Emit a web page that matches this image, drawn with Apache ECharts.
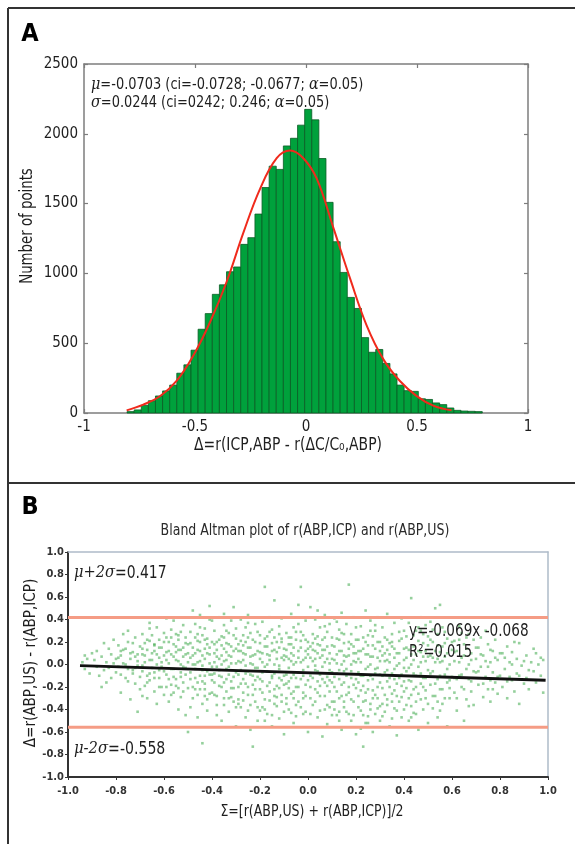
<!DOCTYPE html>
<html><head><meta charset="utf-8">
<script src="https://cdn.jsdelivr.net/npm/echarts@6/dist/echarts.min.js"></script>
<style>html,body{margin:0;padding:0;background:#fff}#c{width:575px;height:844px}</style>
</head><body><div id="c"></div>
<script>
// ---------- Panel A: histogram ----------
const histFirstBinCenter = -0.79;
const histBinWidth = 0.032;
const histCounts = [10,22,55,88,122,158,200,285,345,450,600,712,850,918,1012,1046,1208,1256,1425,1615,1768,1745,1913,1968,2062,2175,2100,1823,1509,1227,1007,828,749,540,435,455,355,280,200,160,155,102,97,72,60,36,19,14,12,10];
const fitX = [-0.808,-0.733,-0.658,-0.583,-0.508,-0.432,-0.357,-0.282,-0.207,-0.132,-0.072,-0.012,0.048,0.123,0.198,0.273,0.348,0.423,0.499,0.573,0.656];
const fitY = [19,60,120,230,410,652,942,1292,1606,1825,1880,1825,1680,1328,966,628,386,229,121,53,19];
const histXRange = [-1, 1, 0.5];
const histYRange = [0, 2500, 500];

// ---------- Panel B: Bland-Altman ----------
const baRange = [-1, 1, 0.2];
const upperLimit = 0.417;
const lowerLimit = -0.558;
const regressionLine = [[-0.95,-0.01],[0.99,-0.14]];
// points spread over the whole cloud
const baPoints = [
[-0.94,0.02],[-0.93,-0.04],[-0.92,0.05],[-0.91,-0.08],[-0.9,0.1],[-0.93,0.08],
[-0.89,0.04],[-0.88,-0.02],[-0.88,0.12],[-0.87,-0.1],[-0.86,0.07],[-0.85,0.19],[-0.85,-0.05],[-0.84,0.02],[-0.84,-0.16],[-0.83,0.14],[-0.83,-0.03],[-0.82,0.09],[-0.82,-0.12],[-0.81,0.01],[-0.81,0.22],[-0.8,-0.07],[-0.8,0.05],[-0.86,-0.2],
[-0.79,0.17],[-0.79,-0.02],[-0.78,0.08],[-0.78,-0.25],[-0.77,0.27],[-0.77,0.01],[-0.76,-0.12],[-0.76,0.14],[-0.75,-0.04],[-0.75,0.2],[-0.74,-0.31],[-0.74,0.05],[-0.73,-0.08],[-0.73,0.11],[-0.72,0.24],[-0.72,-0.17],[-0.71,-0.42],[-0.71,0.03],[-0.71,-0.01],[-0.7,0.16],[-0.7,-0.22],[-0.78,0.12],[-0.75,0.3],[-0.73,-0.05],[-0.72,0.07],
[-0.69,0.27],[-0.69,-0.06],[-0.69,0.09],[-0.68,-0.19],[-0.68,0.19],[-0.68,0.02],[-0.67,-0.3],[-0.67,0.13],[-0.67,-0.1],[-0.66,0.32],[-0.66,0.04],[-0.66,-0.14],[-0.65,0.26],[-0.65,-0.03],[-0.65,0.1],[-0.64,-0.24],[-0.64,0.17],[-0.64,-0.07],[-0.63,0.33],[-0.63,0.0],[-0.63,-0.35],[-0.62,0.22],[-0.62,-0.12],[-0.62,0.06],[-0.61,-0.2],[-0.61,0.15],[-0.61,-0.02],[-0.6,0.28],[-0.6,-0.27],[-0.6,0.08],[-0.67,0.22],[-0.64,0.12],[-0.62,-0.05],[-0.69,-0.28],[-0.66,0.37],
[-0.59,0.41],[-0.59,-0.09],[-0.59,0.11],[-0.58,-0.33],[-0.58,0.2],[-0.58,0.01],[-0.57,-0.18],[-0.57,0.31],[-0.57,-0.04],[-0.56,0.39],[-0.56,0.07],[-0.56,-0.25],[-0.55,0.16],[-0.55,-0.13],[-0.55,0.27],[-0.54,-0.4],[-0.54,0.03],[-0.54,0.22],[-0.53,-0.07],[-0.53,0.13],[-0.53,-0.29],[-0.52,0.35],[-0.52,-0.02],[-0.52,-0.16],[-0.51,0.24],[-0.51,-0.45],[-0.51,0.09],[-0.5,-0.21],[-0.5,0.18],[-0.5,-0.6],[-0.58,0.12],[-0.56,-0.11],[-0.55,0.04],[-0.53,0.29],[-0.52,0.15],[-0.57,0.24],[-0.54,-0.21],[-0.51,-0.09],[-0.59,-0.2],[-0.5,0.02],
[-0.49,0.29],[-0.49,-0.13],[-0.49,0.06],[-0.48,0.48],[-0.48,-0.3],[-0.48,0.15],[-0.47,-0.04],[-0.47,0.36],[-0.47,-0.22],[-0.46,0.21],[-0.46,-0.47],[-0.46,0.02],[-0.45,0.44],[-0.45,-0.1],[-0.45,0.12],[-0.44,-0.7],[-0.44,0.26],[-0.44,-0.35],[-0.43,0.05],[-0.43,-0.17],[-0.43,0.32],[-0.42,-0.06],[-0.42,0.18],[-0.42,-0.41],[-0.41,0.52],[-0.41,-0.26],[-0.41,0.09],[-0.4,-0.14],[-0.4,0.39],[-0.4,-0.02],[-0.48,0.0],[-0.47,0.1],[-0.46,-0.16],[-0.45,0.33],[-0.44,0.08],[-0.43,-0.28],[-0.42,0.23],[-0.41,-0.09],[-0.49,-0.38],[-0.46,0.27],[-0.44,-0.01],[-0.43,0.14],[-0.4,0.2],[-0.41,0.4],[-0.45,-0.22],
[-0.39,0.3],[-0.39,-0.08],[-0.39,0.1],[-0.38,-0.36],[-0.38,0.2],[-0.38,-0.02],[-0.37,0.42],[-0.37,-0.19],[-0.37,0.05],[-0.36,-0.5],[-0.36,0.25],[-0.36,-0.11],[-0.35,0.14],[-0.35,-0.3],[-0.35,0.35],[-0.34,-0.04],[-0.34,0.19],[-0.34,-0.24],[-0.33,0.08],[-0.33,-0.42],[-0.33,0.28],[-0.32,-0.15],[-0.32,0.01],[-0.32,0.39],[-0.31,-0.33],[-0.31,0.51],[-0.31,0.12],[-0.3,-0.07],[-0.3,-0.55],[-0.3,0.23],[-0.39,-0.27],[-0.38,0.07],[-0.37,-0.05],[-0.36,0.17],[-0.35,-0.16],[-0.34,0.04],[-0.33,-0.09],[-0.32,0.16],[-0.31,-0.21],[-0.3,0.32],[-0.36,0.0],[-0.34,0.3],[-0.38,-0.45],[-0.32,-0.29],[-0.35,0.45],
[-0.29,0.18],[-0.29,-0.2],[-0.29,0.03],[-0.28,0.4],[-0.28,-0.38],[-0.28,-0.05],[-0.27,0.26],[-0.27,-0.13],[-0.27,0.1],[-0.26,-0.47],[-0.26,0.33],[-0.26,-0.01],[-0.25,0.15],[-0.25,-0.27],[-0.25,0.44],[-0.24,-0.09],[-0.24,0.07],[-0.24,-0.58],[-0.23,0.22],[-0.23,-0.18],[-0.23,-0.73],[-0.22,0.36],[-0.22,-0.03],[-0.22,-0.33],[-0.21,0.12],[-0.21,-0.11],[-0.21,0.29],[-0.2,-0.41],[-0.2,0.05],[-0.2,-0.22],[-0.29,-0.31],[-0.28,0.12],[-0.27,-0.25],[-0.26,0.2],[-0.25,-0.06],[-0.24,0.28],[-0.23,0.0],[-0.22,-0.14],[-0.21,-0.5],[-0.2,0.19],[-0.26,-0.17],[-0.24,-0.36],[-0.22,0.09],[-0.28,0.02],[-0.25,0.37],
[-0.19,0.38],[-0.19,-0.15],[-0.19,0.02],[-0.18,0.69],[-0.18,-0.31],[-0.18,0.16],[-0.17,-0.06],[-0.17,0.25],[-0.17,-0.44],[-0.16,0.08],[-0.16,-0.24],[-0.16,0.42],[-0.15,-0.12],[-0.15,0.31],[-0.15,-0.55],[-0.14,0.57],[-0.14,0.0],[-0.14,-0.35],[-0.13,0.2],[-0.13,-0.19],[-0.13,0.11],[-0.12,-0.04],[-0.12,-0.48],[-0.12,0.34],[-0.11,-0.27],[-0.11,0.06],[-0.11,0.23],[-0.1,-0.1],[-0.1,-0.62],[-0.1,0.14],[-0.19,-0.38],[-0.18,-0.02],[-0.17,0.09],[-0.16,-0.16],[-0.15,0.19],[-0.14,-0.08],[-0.13,-0.29],[-0.12,0.27],[-0.11,-0.14],[-0.1,0.04],[-0.16,0.29],[-0.14,0.13],[-0.12,-0.21],[-0.18,-0.5],[-0.11,0.41],
[-0.09,0.28],[-0.09,-0.17],[-0.09,0.07],[-0.08,-0.4],[-0.08,0.18],[-0.08,-0.03],[-0.07,0.45],[-0.07,-0.26],[-0.07,0.1],[-0.06,-0.09],[-0.06,0.33],[-0.06,-0.52],[-0.05,0.02],[-0.05,-0.2],[-0.05,0.22],[-0.04,0.53],[-0.04,-0.33],[-0.04,0.06],[-0.03,0.69],[-0.03,-0.13],[-0.03,0.15],[-0.02,-0.44],[-0.02,0.26],[-0.02,-0.05],[-0.01,0.12],[-0.01,-0.28],[-0.01,0.39],[0.0,-0.02],[0.0,-0.6],[0.0,0.2],[-0.09,-0.3],[-0.08,0.05],[-0.07,-0.12],[-0.06,0.15],[-0.05,-0.36],[-0.04,-0.07],[-0.03,0.29],[-0.02,0.04],[-0.01,-0.18],[0.0,0.09],[-0.06,0.0],[-0.04,0.36],[-0.08,-0.21],[-0.02,-0.25],[-0.07,0.24],
[0.01,0.51],[0.01,-0.1],[0.01,0.16],[0.02,-0.36],[0.02,0.03],[0.02,0.27],[0.03,-0.22],[0.03,0.4],[0.03,-0.05],[0.04,-0.47],[0.04,0.1],[0.04,-0.15],[0.05,0.33],[0.05,-0.28],[0.05,0.06],[0.06,-0.64],[0.06,0.22],[0.06,-0.02],[0.07,0.44],[0.07,-0.4],[0.07,0.13],[0.08,-0.11],[0.08,0.29],[0.08,-0.53],[0.09,0.01],[0.09,-0.24],[0.09,0.36],[0.1,-0.07],[0.1,0.17],[0.1,-0.33],[0.01,-0.3],[0.02,0.19],[0.03,-0.01],[0.04,0.25],[0.05,-0.19],[0.06,0.08],[0.07,-0.16],[0.08,0.05],[0.09,-0.38],[0.1,0.24],[0.05,-0.09],[0.07,0.34],[0.03,0.12],[0.09,-0.14],[0.04,0.48],
[0.11,0.41],[0.11,-0.2],[0.11,0.04],[0.12,-0.45],[0.12,0.23],[0.12,-0.08],[0.13,0.31],[0.13,-0.3],[0.13,0.12],[0.14,-0.58],[0.14,0.0],[0.14,0.46],[0.15,-0.16],[0.15,0.19],[0.15,-0.38],[0.16,0.07],[0.16,-0.04],[0.16,0.36],[0.17,0.71],[0.17,-0.25],[0.17,0.14],[0.18,-0.5],[0.18,0.27],[0.18,-0.12],[0.19,0.03],[0.19,-0.33],[0.19,0.42],[0.2,-0.21],[0.2,0.1],[0.2,-0.62],[0.11,-0.33],[0.12,0.09],[0.13,-0.13],[0.14,0.28],[0.15,-0.06],[0.16,-0.27],[0.17,0.2],[0.18,0.0],[0.19,-0.18],[0.2,0.33],[0.15,0.08],[0.13,-0.42],[0.17,-0.44],[0.19,0.16],[0.12,0.38],
[0.21,0.22],[0.21,-0.28],[0.21,0.05],[0.22,-0.41],[0.22,0.34],[0.22,-0.1],[0.23,0.14],[0.23,-0.73],[0.23,-0.19],[0.24,0.48],[0.24,-0.04],[0.24,-0.52],[0.25,0.26],[0.25,-0.14],[0.25,0.09],[0.26,-0.35],[0.26,0.39],[0.26,0.0],[0.27,-0.23],[0.27,0.17],[0.27,-0.6],[0.28,0.3],[0.28,-0.08],[0.28,-0.44],[0.29,0.06],[0.29,-0.3],[0.29,0.42],[0.3,-0.16],[0.3,0.2],[0.3,-0.5],[0.21,-0.16],[0.22,0.12],[0.23,-0.33],[0.24,0.2],[0.25,-0.46],[0.26,-0.1],[0.27,0.07],[0.28,-0.27],[0.29,-0.03],[0.3,0.12],[0.24,-0.25],[0.26,0.3],[0.22,-0.57],[0.28,0.35],[0.3,-0.37],
[0.31,0.33],[0.31,-0.21],[0.31,0.08],[0.32,-0.42],[0.32,0.24],[0.32,-0.07],[0.33,0.45],[0.33,-0.31],[0.33,0.13],[0.34,-0.12],[0.34,0.02],[0.34,-0.55],[0.35,0.27],[0.35,-0.26],[0.35,0.16],[0.36,-0.04],[0.36,-0.39],[0.36,0.37],[0.37,0.1],[0.37,-0.17],[0.37,-0.63],[0.38,0.21],[0.38,-0.33],[0.38,0.01],[0.39,0.41],[0.39,-0.09],[0.39,-0.47],[0.4,0.14],[0.4,-0.24],[0.4,0.3],[0.31,-0.35],[0.32,0.1],[0.33,-0.15],[0.34,0.19],[0.35,-0.48],[0.36,0.06],[0.37,-0.28],[0.38,0.29],[0.39,-0.19],[0.4,-0.03],[0.33,0.04],[0.36,-0.13],
[0.41,0.06],[0.41,-0.36],[0.41,0.25],[0.42,-0.14],[0.42,0.37],[0.42,-0.5],[0.43,0.59],[0.43,0.0],[0.43,-0.27],[0.44,0.16],[0.44,-0.08],[0.44,-0.43],[0.45,0.3],[0.45,-0.2],[0.45,0.09],[0.46,-0.58],[0.46,0.21],[0.46,-0.02],[0.47,0.42],[0.47,-0.31],[0.47,0.11],[0.48,-0.12],[0.48,0.27],[0.48,-0.4],[0.49,0.03],[0.49,-0.23],[0.49,0.35],[0.5,-0.05],[0.5,0.17],[0.5,-0.52],[0.41,-0.06],[0.42,0.13],[0.43,-0.37],[0.44,0.04],[0.45,-0.33],[0.46,0.33],[0.47,-0.17],[0.48,0.07],[0.49,-0.3],[0.5,0.25],
[0.51,0.38],[0.51,-0.18],[0.51,0.08],[0.52,-0.39],[0.52,0.2],[0.52,-0.06],[0.53,0.5],[0.53,-0.28],[0.53,0.12],[0.54,-0.13],[0.54,0.27],[0.54,-0.47],[0.55,0.53],[0.55,0.02],[0.55,-0.22],[0.56,0.16],[0.56,-0.35],[0.56,0.33],[0.57,-0.09],[0.57,0.07],[0.58,-0.55],[0.58,0.23],[0.58,-0.16],[0.59,0.0],[0.59,-0.3],[0.6,0.13],[0.6,-0.11],[0.52,0.31],[0.54,0.05],[0.55,-0.41],[0.57,0.29],[0.59,-0.21],
[0.61,0.21],[0.61,-0.25],[0.61,0.03],[0.62,-0.41],[0.62,0.12],[0.63,-0.1],[0.63,0.34],[0.64,-0.2],[0.64,0.06],[0.65,-0.5],[0.65,0.18],[0.66,-0.04],[0.66,-0.31],[0.67,0.27],[0.67,0.0],[0.68,-0.15],[0.68,0.1],[0.69,-0.36],[0.69,0.22],[0.7,-0.07],[0.62,-0.13],[0.64,0.28],[0.66,0.14],[0.68,-0.24],[0.7,0.05],
[0.71,0.15],[0.71,-0.18],[0.72,-0.02],[0.72,0.24],[0.73,-0.29],[0.73,0.08],[0.74,-0.11],[0.75,0.18],[0.75,-0.22],[0.76,0.02],[0.76,-0.33],[0.77,0.12],[0.77,-0.07],[0.78,-0.16],[0.78,0.22],[0.79,0.04],[0.79,-0.26],[0.8,-0.1],[0.74,0.3],[0.76,-0.14],
[0.81,0.1],[0.81,-0.2],[0.82,-0.04],[0.83,0.16],[0.83,-0.3],[0.84,0.02],[0.85,-0.14],[0.85,0.11],[0.86,-0.24],[0.87,0.05],[0.87,-0.08],[0.88,0.19],[0.88,-0.35],[0.89,-0.01],[0.9,-0.17],[0.84,-0.11],
[0.91,0.08],[0.91,-0.12],[0.92,-0.22],[0.93,0.02],[0.94,-0.06],[0.94,0.14],[0.95,-0.16],[0.96,0.0],[0.97,-0.1],[0.97,0.06],[0.98,-0.25],[0.98,0.04]
];
// extra points in the dense core of the cloud
const baPointsCore = [
[-0.79,0.06],[-0.78,-0.09],[-0.77,0.13],[-0.76,0.0],[-0.75,-0.15],[-0.74,0.1],[-0.73,0.19],[-0.72,-0.03],[-0.71,0.09],[-0.7,-0.11],
[-0.69,0.14],[-0.69,-0.01],[-0.68,0.08],[-0.67,-0.16],[-0.66,0.21],[-0.66,-0.08],[-0.65,0.04],[-0.64,0.18],[-0.64,-0.12],[-0.63,0.09],[-0.62,-0.2],[-0.62,0.15],[-0.61,0.02],[-0.6,-0.06],[-0.6,0.2],
[-0.59,0.04],[-0.59,0.24],[-0.58,-0.13],[-0.57,0.09],[-0.57,-0.27],[-0.56,0.18],[-0.56,-0.04],[-0.55,0.11],[-0.55,-0.19],[-0.54,0.13],[-0.54,0.26],[-0.53,-0.11],[-0.53,0.0],[-0.52,0.07],[-0.52,-0.24],[-0.51,0.19],[-0.51,-0.03],[-0.5,0.1],
[-0.49,0.19],[-0.49,-0.07],[-0.48,0.08],[-0.48,-0.2],[-0.47,0.24],[-0.47,-0.12],[-0.46,0.13],[-0.46,-0.27],[-0.45,0.03],[-0.45,0.2],[-0.44,-0.15],[-0.44,-0.05],[-0.43,0.22],[-0.43,-0.22],[-0.42,0.1],[-0.42,-0.31],[-0.41,0.01],[-0.41,0.15],[-0.4,-0.09],[-0.4,-0.25],[-0.47,0.0],[-0.43,-0.1],
[-0.39,0.18],[-0.39,-0.16],[-0.39,0.02],[-0.38,-0.28],[-0.38,0.13],[-0.37,-0.1],[-0.37,0.22],[-0.36,-0.2],[-0.36,0.08],[-0.35,-0.36],[-0.35,0.03],[-0.35,0.24],[-0.34,-0.13],[-0.34,0.11],[-0.33,-0.02],[-0.33,-0.3],[-0.33,0.18],[-0.32,-0.21],[-0.32,0.07],[-0.31,-0.11],[-0.31,0.26],[-0.3,-0.38],[-0.3,0.01],[-0.3,0.14],
[-0.29,-0.09],[-0.29,0.12],[-0.29,-0.35],[-0.28,0.21],[-0.28,-0.17],[-0.27,0.04],[-0.27,-0.32],[-0.27,0.17],[-0.26,-0.08],[-0.26,0.09],[-0.25,-0.2],[-0.25,0.24],[-0.25,-0.41],[-0.24,0.01],[-0.24,0.15],[-0.23,-0.27],[-0.23,0.08],[-0.23,-0.1],[-0.22,0.2],[-0.22,-0.22],[-0.21,-0.03],[-0.21,-0.38],[-0.2,0.11],[-0.2,-0.13],[-0.2,0.26],
[-0.19,-0.25],[-0.19,0.1],[-0.19,-0.07],[-0.18,0.23],[-0.18,-0.4],[-0.17,0.0],[-0.17,-0.19],[-0.17,0.16],[-0.16,-0.32],[-0.16,0.04],[-0.15,0.12],[-0.15,-0.1],[-0.15,-0.45],[-0.14,0.24],[-0.14,-0.22],[-0.13,0.05],[-0.13,-0.37],[-0.12,0.15],[-0.12,-0.12],[-0.12,-0.01],[-0.11,-0.33],[-0.11,0.2],[-0.1,-0.18],[-0.1,0.08],[-0.1,-0.42],[-0.14,-0.28],
[-0.09,0.13],[-0.09,-0.09],[-0.09,-0.35],[-0.08,0.24],[-0.08,-0.15],[-0.07,0.03],[-0.07,-0.43],[-0.07,0.18],[-0.06,-0.24],[-0.06,0.08],[-0.05,-0.12],[-0.05,0.29],[-0.05,-0.46],[-0.04,0.12],[-0.04,-0.2],[-0.03,0.02],[-0.03,-0.38],[-0.03,0.21],[-0.02,-0.1],[-0.02,-0.3],[-0.01,0.06],[-0.01,0.22],[-0.01,-0.42],[0.0,-0.14],[0.0,0.14],[-0.06,-0.3],
[0.01,0.06],[0.01,-0.2],[0.01,-0.44],[0.02,0.13],[0.02,-0.12],[0.03,0.23],[0.03,-0.33],[0.03,0.05],[0.04,-0.06],[0.04,-0.25],[0.05,0.17],[0.05,-0.41],[0.06,-0.13],[0.06,0.13],[0.07,-0.28],[0.07,0.02],[0.07,0.24],[0.08,-0.19],[0.08,-0.36],[0.08,0.16],[0.09,-0.05],[0.09,0.1],[0.1,-0.45],[0.1,-0.16],[0.1,0.05],[0.04,0.18],
[0.11,0.16],[0.11,-0.11],[0.11,-0.4],[0.12,0.01],[0.12,-0.24],[0.13,0.22],[0.13,-0.05],[0.13,-0.5],[0.14,0.12],[0.14,-0.18],[0.15,-0.33],[0.15,0.03],[0.15,0.27],[0.16,-0.1],[0.16,-0.42],[0.17,0.08],[0.17,-0.2],[0.18,0.18],[0.18,-0.31],[0.18,-0.06],[0.19,0.1],[0.19,-0.45],[0.2,-0.13],[0.2,0.02],[0.2,0.22],[0.14,-0.28],
[0.21,-0.07],[0.21,0.12],[0.21,-0.38],[0.22,0.02],[0.22,-0.23],[0.23,0.24],[0.23,-0.1],[0.23,-0.45],[0.24,0.09],[0.24,-0.32],[0.25,-0.02],[0.25,0.17],[0.25,-0.22],[0.26,-0.4],[0.26,0.07],[0.27,-0.13],[0.27,-0.3],[0.27,0.25],[0.28,-0.04],[0.28,0.14],[0.29,-0.2],[0.29,-0.39],[0.29,0.2],[0.3,-0.09],[0.3,0.03],[0.25,-0.52],
[0.31,0.16],[0.31,-0.1],[0.31,-0.46],[0.32,0.03],[0.32,-0.27],[0.33,0.22],[0.33,-0.05],[0.33,-0.36],[0.34,0.09],[0.34,-0.2],[0.35,-0.08],[0.35,0.2],[0.35,-0.33],[0.36,0.14],[0.36,-0.23],[0.37,-0.01],[0.37,-0.41],[0.38,0.1],[0.38,-0.12],[0.39,0.23],[0.39,-0.29],[0.4,0.04],[0.4,-0.15],[0.4,-0.4],
[0.41,0.15],[0.41,-0.21],[0.42,-0.03],[0.42,-0.3],[0.43,0.09],[0.43,-0.15],[0.44,0.26],[0.44,-0.22],[0.45,-0.1],[0.45,-0.44],[0.46,0.12],[0.46,-0.26],[0.47,0.02],[0.47,-0.08],[0.48,0.19],[0.48,-0.2],[0.49,-0.12],[0.49,0.12],[0.5,-0.35],[0.5,0.07],[0.43,-0.47],[0.47,0.3],
[0.51,-0.08],[0.51,0.22],[0.52,-0.28],[0.52,0.06],[0.53,-0.17],[0.53,0.02],[0.54,0.17],[0.54,-0.33],[0.55,-0.1],[0.55,0.11],[0.56,-0.22],[0.56,0.03],[0.57,0.19],[0.57,-0.3],[0.58,-0.04],[0.58,0.1],[0.59,-0.14],[0.6,0.2],
[0.61,-0.12],[0.61,0.11],[0.62,-0.3],[0.63,0.02],[0.63,0.22],[0.64,-0.09],[0.65,0.08],[0.65,-0.22],[0.66,0.24],[0.67,-0.13],[0.67,-0.37],[0.68,0.04],[0.69,-0.06],[0.7,0.15],
[0.71,-0.06],[0.72,0.09],[0.73,-0.17],[0.74,0.03],[0.75,-0.02],[0.76,0.13],[0.77,-0.22],[0.78,0.06],[0.79,-0.11],[0.8,0.1],
[0.82,0.06],[0.83,-0.15],[0.85,0.0],[0.86,0.2],[0.88,-0.1],[0.9,0.03],[0.92,-0.05],[0.95,0.1]
];

// ---------- styles ----------
const F = "'DejaVu Sans Condensed','Liberation Sans Narrow','DejaVu Sans',sans-serif";
const GREEK = "'DejaVu Serif','Liberation Serif',serif";
const boxA = '#7d7d7d';
const TXT = '#1e1e1e';

const chart = echarts.init(document.getElementById('c'), null, {renderer: 'canvas'});

function aAxis(pos, showLabel, range, isX) {
  return {
    gridIndex: 0, type: 'value', position: pos,
    min: range[0], max: range[1], interval: range[2],
    axisLine: {onZero: false, lineStyle: {color: boxA, width: 1.5}},
    axisTick: {inside: true, length: 4, lineStyle: {color: boxA, width: 1.2}},
    axisLabel: {show: showLabel, color: TXT, fontSize: 15, fontFamily: F, margin: isX ? 7 : 6,
      formatter: v => String(v)},
    splitLine: {show: false}
  };
}
const fmt1 = v => (Math.abs(v) < 1e-9 ? 0 : v).toFixed(1);
function bAxis(dim, pos, main) {
  return {
    gridIndex: 1, type: 'value', position: pos,
    min: baRange[0], max: baRange[1], interval: baRange[2],
    axisLine: {onZero: false, lineStyle: {color: main ? '#333' : '#aebbc9', width: main ? 2 : 1.5}},
    axisTick: {show: main, length: 3, lineStyle: {color: '#333', width: 1}},
    axisLabel: {show: main, formatter: fmt1, color: '#333', fontSize: 11, fontWeight: 'bold', fontFamily: F, margin: dim === 'x' ? 9 : 4},
    splitLine: {show: false}
  };
}
function txt(x, y, text, size, opts) {
  opts = opts || {};
  const el = {type: 'text', x: x, y: y, z: 10,
    style: {text: text, font: (opts.weight || '') + ' ' + size + 'px ' + F, fill: opts.fill || TXT,
      align: opts.align || 'left', verticalAlign: 'middle'}};
  if (opts.rich) el.style.rich = opts.rich;
  if (opts.scaleX) el.scaleX = opts.scaleX;
  if (opts.rotation) el.rotation = opts.rotation;
  return el;
}
const greekRich = size => ({g: {fontFamily: GREEK, fontStyle: 'italic', fontSize: size, fill: TXT}});

const option = {
  animation: false,
  backgroundColor: '#fff',
  grid: [
    {left: 84, top: 64, width: 444, height: 349},
    {left: 68, top: 552, width: 480, height: 225}
  ],
  xAxis: [aAxis('bottom', true, histXRange, true), aAxis('top', false, histXRange, true),
          bAxis('x', 'bottom', true), bAxis('x', 'top', false)],
  yAxis: [aAxis('left', true, histYRange, false), aAxis('right', false, histYRange, false),
          bAxis('y', 'left', true), bAxis('y', 'right', false)],
  series: [
    {
      type: 'custom', xAxisIndex: 0, yAxisIndex: 0,
      data: histCounts.map((v, k) => [histFirstBinCenter + k * histBinWidth, v]),
      encode: {x: 0, y: 1},
      renderItem: function (params, api) {
        const c = api.value(0), v = api.value(1);
        const p1 = api.coord([c - histBinWidth / 2, v]);
        const p2 = api.coord([c + histBinWidth / 2, 0]);
        return {type: 'rect', shape: {x: p1[0], y: p1[1], width: p2[0] - p1[0], height: p2[1] - p1[1]},
          style: {fill: '#00a13c', stroke: '#0a5c25', lineWidth: 0.8}};
      }
    },
    {
      type: 'line', xAxisIndex: 0, yAxisIndex: 0, smooth: 0.4, symbol: 'none',
      data: fitX.map((x, i) => [x, fitY[i]]),
      lineStyle: {color: '#f02a1c', width: 2}, z: 5
    },
    {
      type: 'scatter', xAxisIndex: 2, yAxisIndex: 2, symbol: 'rect', symbolSize: 2.6,
      data: baPoints.concat(baPointsCore), itemStyle: {color: 'rgba(40,160,55,0.62)'}
    },
    {
      type: 'line', xAxisIndex: 2, yAxisIndex: 2, symbol: 'none',
      data: [[baRange[0], upperLimit], [baRange[1], upperLimit]],
      lineStyle: {color: '#f59c85', width: 3}, z: 3
    },
    {
      type: 'line', xAxisIndex: 2, yAxisIndex: 2, symbol: 'none',
      data: [[baRange[0], lowerLimit], [baRange[1], lowerLimit]],
      lineStyle: {color: '#f59c85', width: 3}, z: 3
    },
    {
      type: 'line', xAxisIndex: 2, yAxisIndex: 2, symbol: 'none',
      data: regressionLine,
      lineStyle: {color: '#111', width: 3}, z: 4
    }
  ],
  graphic: [
    {type: 'line', shape: {x1: 8, y1: 8, x2: 575, y2: 8}, style: {stroke: '#333', lineWidth: 2}},
    {type: 'line', shape: {x1: 8, y1: 8, x2: 8, y2: 844}, style: {stroke: '#333', lineWidth: 2}},
    {type: 'line', shape: {x1: 8, y1: 483, x2: 575, y2: 483}, style: {stroke: '#333', lineWidth: 2}},
    txt(30, 34, 'A', 25, {weight: 'bold', align: 'center', fill: '#000'}),
    txt(30, 507, 'B', 25, {weight: 'bold', align: 'center', fill: '#000'}),
    txt(91, 85, '{g|μ}=-0.0703 (ci=-0.0728; -0.0677; {g|α}=0.05)', 16, {scaleX: 0.9, rich: greekRich(16)}),
    txt(91, 103, '{g|σ}=0.0244 (ci=0242; 0.246; {g|α}=0.05)', 16, {scaleX: 0.9, rich: greekRich(16)}),
    txt(288, 446, 'Δ=r(ICP,ABP - r(ΔC/C₀,ABP)', 17, {align: 'center', scaleX: 0.91}),
    txt(28, 226, 'Number of points', 17, {align: 'center', scaleX: 0.87, rotation: Math.PI / 2}),
    txt(305, 531, 'Bland Altman plot of r(ABP,ICP) and r(ABP,US)', 15, {align: 'center', fill: '#2a2a2a', scaleX: 0.93}),
    txt(312, 812, 'Σ=[r(ABP,US) + r(ABP,ICP)]/2', 16, {align: 'center', scaleX: 0.87}),
    txt(31, 663, 'Δ=r(ABP,US) - r(ABP,ICP)', 16, {align: 'center', scaleX: 0.94, rotation: Math.PI / 2}),
    txt(74, 573, '{g|μ+2σ}=0.417', 18, {scaleX: 0.86, rich: greekRich(17)}),
    txt(74, 749, '{g|μ-2σ}=-0.558', 18, {scaleX: 0.87, rich: greekRich(17)}),
    txt(409, 632, 'y=-0.069x -0.068', 17, {scaleX: 0.89}),
    txt(409, 653, 'R²=0.015', 17, {scaleX: 0.86})
  ]
};
chart.setOption(option);
</script>
</body></html>
